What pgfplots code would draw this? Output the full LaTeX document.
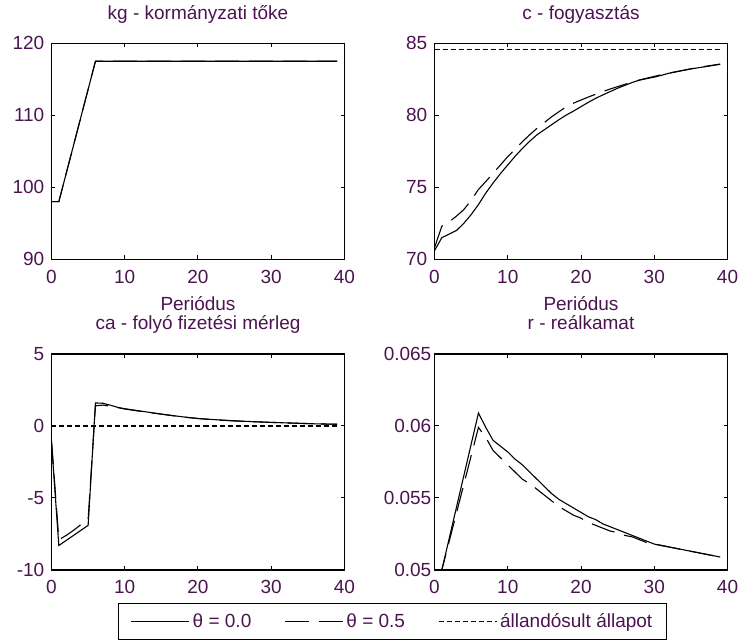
\documentclass[border=0pt]{standalone}
\usepackage{fontspec}
\setmainfont{Liberation Sans}
\usepackage{pgfplots}
\pgfplotsset{compat=1.18}
\definecolor{txt}{RGB}{75,20,80}
\pgfplotsset{
 mystyle/.style={
  scale only axis, width=293pt, height=216pt,
  axis line style={line width=1.2pt, black},
  every tick/.style={black, line width=1pt},
  tick align=inside, major tick length=4pt,
  xtick pos=both, ytick pos=both,
  scaled y ticks=false,
  xmin=0, xmax=40, xtick={0,10,20,30,40}, xticklabels={0,10,20,30,40},
  xticklabel style={anchor=base, inner sep=0pt, yshift=-24pt, text=txt},
  yticklabel style={anchor=east, inner sep=0pt, xshift=-7pt, text=txt},
  title style={at={(0.5,1)}, anchor=base, yshift=18pt, inner sep=0pt, text=txt},
  xlabel style={at={(0.5,0)}, anchor=base, yshift=-51pt, inner sep=0pt, text=txt},
  clip=false,
  every axis plot/.append style={line width=1.1pt, black},
 },
 th0/.style={solid},
 th5/.style={dash pattern=on 24pt off 10pt},
 ss/.style={dash pattern=on 5pt off 3pt},
}
\begin{document}
\begin{tikzpicture}[font=\fontsize{19}{22.8}\selectfont]
\useasboundingbox (0pt,0pt) rectangle (740pt,-644pt);
% kg
\begin{axis}[mystyle, at={(51.5pt,-43.3pt)}, anchor=north west,
  ymin=90, ymax=120, ytick={90,100,110,120}, yticklabels={90,100,110,120},
  title={kg - kormányzati tőke}, xlabel={Periódus}]
\addplot[th5] coordinates {(0,98)(1,98)(6,117.5)(39,117.5)};
\addplot[th0] coordinates {(0,98)(1,98)(6,117.5)(39,117.5)};
\end{axis}
% c
\begin{axis}[mystyle, at={(434.5pt,-43.3pt)}, anchor=north west,
  ymin=70, ymax=85, ytick={70,75,80,85}, yticklabels={70,75,80,85},
  title={c - fogyasztás}, xlabel={Periódus}]
\addplot[th0] coordinates {(0,70.6)(1,71.5)(2,71.75)(3,72.0)(4,72.5)(5,73.1)(6,73.8)(7,74.6)(8,75.3)(9,75.95)(10,76.55)(11,77.15)(12,77.7)(13,78.2)(14,78.65)(15,79.0)(16,79.35)(17,79.7)(18,80.02)(19,80.3)(20,80.6)(21,80.9)(22,81.18)(23,81.42)(24,81.65)(25,81.88)(26,82.08)(27,82.28)(28,82.45)(29,82.55)(30,82.65)(31,82.78)(32,82.92)(33,83.02)(34,83.12)(35,83.22)(36,83.3)(37,83.38)(38,83.46)(39,83.54)};
\addplot[th5] coordinates {(0,70.8)(1,72.3)(2,72.6)(3,73.0)(4,73.45)(5,74.1)(6,74.85)(7,75.4)(8,75.97)(9,76.55)(10,77.13)(11,77.65)(12,78.17)(13,78.65)(14,79.1)(15,79.5)(16,79.9)(17,80.25)(18,80.6)(19,80.85)(20,81.06)(21,81.27)(22,81.46)(23,81.65)(24,81.83)(25,81.99)(26,82.15)(27,82.3)(28,82.45)(29,82.58)(30,82.7)(31,82.82)(32,82.93)(33,83.03)(34,83.13)(35,83.23)(36,83.32)(37,83.4)(38,83.48)(39,83.56)};
\addplot[ss] coordinates {(0,84.55)(39,84.55)};
\end{axis}
% ca
\begin{axis}[mystyle, at={(51.5pt,-354pt)}, anchor=north west,
  ymin=-10, ymax=5, ytick={-10,-5,0,5}, yticklabels={-10,-5,0,5},
  title={ca - folyó fizetési mérleg},
  legend columns=3,
  legend image code/.code={\draw[#1] (0pt,0pt) -- (58pt,0pt);},
  legend style={at={(0.227,-0.153)}, anchor=north west, draw=black, line width=1.2pt,
    text=txt, inner xsep=12pt, inner ysep=8pt,
    /tikz/every odd column/.append style={column sep=1pt},
    /tikz/every even column/.append style={column sep=31pt}}]
\addplot[th0] coordinates {(0,-1.1)(1,-8.3)(2,-7.95)(3,-7.6)(4,-7.25)(5,-6.9)(6,1.6)(7,1.58)(8,1.45)(9,1.3)(10,1.2)(12,1.05)(14,0.9)(16,0.76)(18,0.63)(20,0.52)(22,0.45)(25,0.36)(28,0.29)(30,0.25)(33,0.2)(36,0.15)(39,0.12)};
\addlegendentry{θ = 0.0}
\addplot[th5] coordinates {(0,-1.0)(1,-7.9)(2,-7.6)(3,-7.25)(4,-6.85)(5,-6.5)(6,1.4)(7,1.45)(8,1.38)(9,1.28)(10,1.18)(12,1.03)(14,0.89)(16,0.75)(18,0.62)(20,0.52)(22,0.44)(25,0.35)(28,0.29)(30,0.25)(33,0.2)(36,0.15)(39,0.12)};
\addlegendentry{θ = 0.5}
\addplot[ss] coordinates {(0,0)(39,0)};
\addlegendentry{állandósult állapot}
\end{axis}
% r
\begin{axis}[mystyle, at={(434.5pt,-354pt)}, anchor=north west,
  ymin=0.05, ymax=0.065, ytick={0.05,0.055,0.06,0.065}, yticklabels={0.05,0.055,0.06,0.065},
  yticklabel style={xshift=4pt},
  title={r - reálkamat}]
\addplot[th0] coordinates {(0,0.05)(1,0.05)(6,0.0609)(7,0.0599)(8,0.0590)(9,0.0586)(10,0.0582)(11,0.0577)(12,0.0573)(13,0.0568)(14,0.0563)(15,0.0558)(16,0.0553)(17,0.0549)(18,0.0546)(19,0.0543)(20,0.0540)(21,0.0537)(22,0.0535)(23,0.0532)(24,0.0530)(25,0.0528)(26,0.0526)(27,0.0524)(28,0.0522)(29,0.0520)(30,0.0518)(31,0.0517)(32,0.0516)(33,0.0515)(34,0.0514)(35,0.0513)(36,0.0512)(37,0.0511)(38,0.0510)(39,0.0509)};
\addplot[th5] coordinates {(0,0.05)(1,0.05)(6,0.0599)(7,0.0592)(8,0.0583)(9,0.0578)(10,0.0573)(11,0.0568)(12,0.0563)(13,0.0560)(14,0.0556)(15,0.0552)(16,0.0548)(17,0.0544)(18,0.0541)(19,0.0538)(20,0.0536)(21,0.0533)(22,0.0531)(23,0.0529)(24,0.0527)(25,0.0526)(26,0.0524)(27,0.0523)(28,0.0521)(29,0.0519)(30,0.0518)(31,0.0517)(32,0.0516)(33,0.0515)(34,0.0514)(35,0.0513)(36,0.0512)(37,0.0511)(38,0.0510)(39,0.0509)};
\addplot[ss] coordinates {(0,0.05)(39,0.05)};
\end{axis}
\end{tikzpicture}
\end{document}
